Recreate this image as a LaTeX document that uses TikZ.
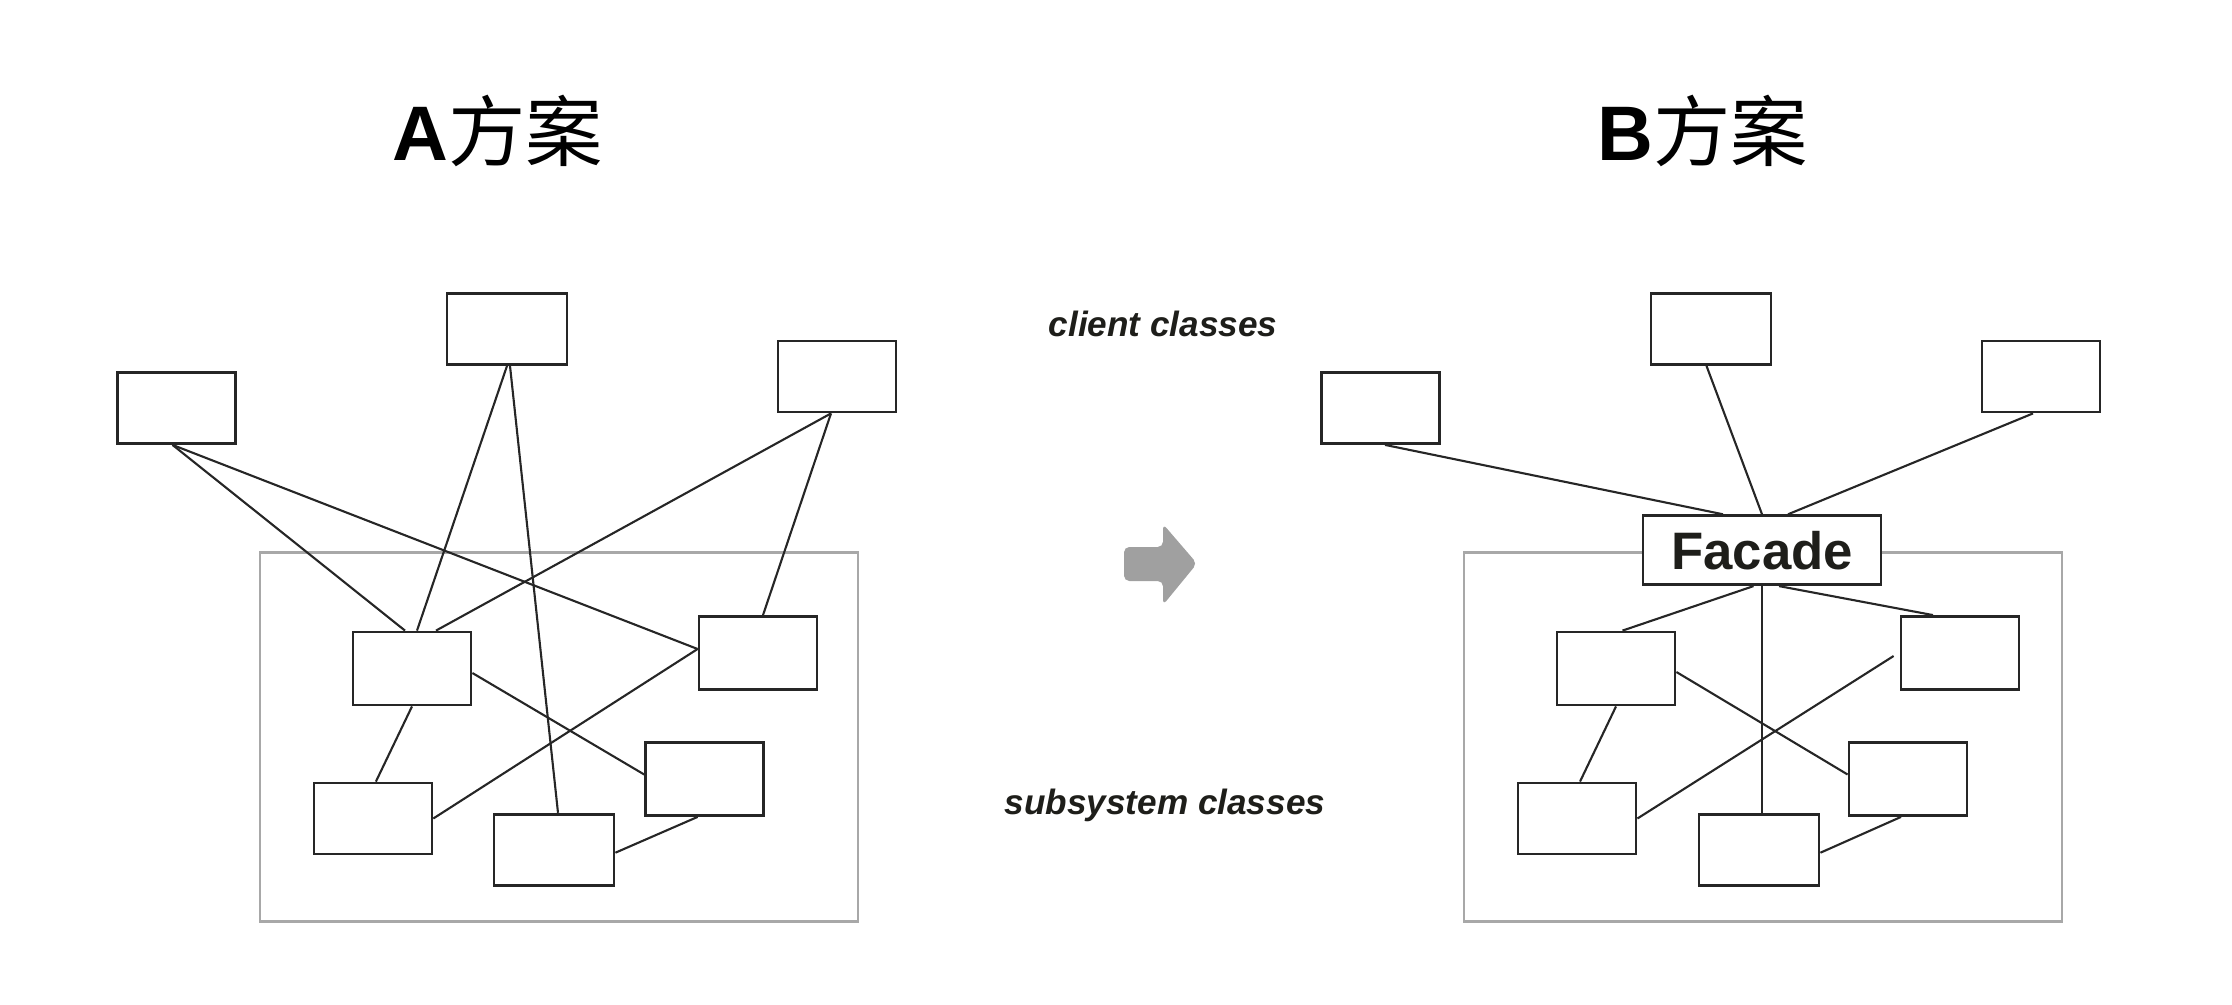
\documentclass[tikz,border=0pt]{standalone}
\usepackage{fontspec}
\setmainfont{Liberation Sans}
\newfontfamily\cjk{Noto Sans CJK SC}
\usetikzlibrary{calc}

\definecolor{framegrey}{HTML}{A8A8A8}
\definecolor{arrowgrey}{HTML}{A0A0A0}
\definecolor{labelink}{HTML}{1E1E1A}

\begin{document}
\begin{tikzpicture}[
    % Define styles
    classbox/.style={
        draw=black!85,
        line width=0.8pt,
        fill=white,
        inner sep=0pt,
        minimum width=1.18cm,
        minimum height=0.71cm
    },
    facadebox/.style={
        draw=black!85,
        line width=0.8pt,
        fill=white,
        inner sep=0pt,
        minimum width=2.38cm,
        minimum height=0.69cm,
        font=\fontsize{15}{18}\selectfont\bfseries,
        text=labelink
    },
    subframe/.style={
        draw=framegrey,
        line width=0.8pt,
        inner sep=0pt,
        minimum width=5.98cm,
        minimum height=3.69cm
    },
    link/.style={
        draw=black!85,
        line width=0.6pt
    },
    plantitle/.style={
        font=\fontsize{22}{26}\selectfont,
        anchor=base
    },
    caption/.style={
        font=\fontsize{10}{12}\selectfont\bfseries\itshape,
        text=labelink,
        anchor=base
    }
]
\useasboundingbox (0,0) rectangle (22.32,10.04);

% ============================================================
% Titles
% ============================================================
\node[plantitle] (titleA) at (4.98, 8.43) {\textbf{A}{\cjk 方案}};
\node[plantitle] (titleB) at (17.03, 8.43) {\textbf{B}{\cjk 方案}};

% ============================================================
% Plan A: every client talks to the subsystem
% ============================================================
\node[subframe] (subA) at (5.59, 2.667) {};

\node[classbox] (cA1) at (1.765, 5.96) {};
\node[classbox, minimum width=1.2cm] (cA2) at (5.07, 6.75) {};
\node[classbox] (cA3) at (8.37, 6.275) {};

\node[classbox, minimum height=0.73cm] (sA1) at (4.12, 3.355) {};
\node[classbox, minimum height=0.73cm] (sA2) at (7.58, 3.51) {};
\node[classbox, minimum height=0.73cm] (sA3) at (7.046, 2.25) {};
\node[classbox] (sA4) at (3.729, 1.855) {};
\node[classbox, minimum width=1.2cm] (sA5) at (5.54, 1.543) {};

% Client to subsystem
\draw[link] ([xshift=-0.04cm]cA1.south) -- ([xshift=-0.07cm]sA1.north);
\draw[link] ([xshift=-0.04cm]cA1.south) -- ([yshift=0.04cm]sA2.west);
\draw[link] (cA2.south) -- ([xshift=0.05cm]sA1.north);
\draw[link] ([xshift=0.03cm]cA2.south) -- ([xshift=0.04cm]sA5.north);
\draw[link] ([xshift=-0.06cm]cA3.south) -- ([xshift=0.24cm]sA1.north);
\draw[link] ([xshift=-0.06cm]cA3.south) -- ([xshift=0.05cm]sA2.north);

% Inside the subsystem
\draw[link] ([yshift=-0.045cm]sA1.east) -- ([yshift=0.045cm]sA3.west);
\draw[link] (sA1.south) -- ([xshift=0.03cm]sA4.north);
\draw[link] ([yshift=0.04cm]sA2.west) -- (sA4.east);
\draw[link] ([xshift=-0.07cm]sA3.south) -- ([yshift=-0.03cm]sA5.east);

% ============================================================
% Middle: labels and arrow
% ============================================================
\node[caption] (clientlbl) at (11.63, 6.68) {client classes};
\node[caption] (subsyslbl) at (11.65, 1.90) {subsystem classes};

\fill[arrowgrey, rounded corners=1.5pt]
    (11.24,4.23) -- (11.24,4.57) -- (11.63,4.57) -- (11.63,4.80)
    -- (11.97,4.405) -- (11.63,3.99) -- (11.63,4.23) -- cycle;

% ============================================================
% Plan B: clients go through the Facade
% ============================================================
\node[subframe] (subB) at (17.63, 2.667) {};

\node[classbox] (cB1) at (13.805, 5.96) {};
\node[classbox, minimum width=1.2cm] (cB2) at (17.11, 6.75) {};
\node[classbox] (cB3) at (20.41, 6.275) {};

\node[facadebox] (facade) at (17.62, 4.538) {Facade};

\node[classbox, minimum height=0.73cm] (sB1) at (16.16, 3.355) {};
\node[classbox, minimum height=0.73cm] (sB2) at (19.60, 3.51) {};
\node[classbox, minimum height=0.73cm] (sB3) at (19.08, 2.25) {};
\node[classbox] (sB4) at (15.77, 1.855) {};
\node[classbox, minimum width=1.2cm] (sB5) at (17.59, 1.543) {};

% Client to Facade
\draw[link] ([xshift=0.045cm]cB1.south) -- ([xshift=-0.39cm]facade.north);
\draw[link] ([xshift=-0.045cm]cB2.south) -- (facade.north);
\draw[link] ([xshift=-0.08cm]cB3.south) -- ([xshift=0.26cm]facade.north);

% Facade to subsystem
\draw[link] ([xshift=-0.085cm]facade.south) -- ([xshift=0.065cm]sB1.north);
\draw[link] ([xshift=0.17cm]facade.south) -- ([xshift=-0.27cm]sB2.north);
\draw[link] (facade.south) -- (facade.south |- sB5.north);

% Inside the subsystem
\draw[link] ([yshift=-0.035cm]sB1.east) -- ([yshift=0.045cm]sB3.west);
\draw[link] (sB1.south) -- ([xshift=0.03cm]sB4.north);
\draw[link] ([xshift=-0.06cm, yshift=-0.03cm]sB2.west) -- (sB4.east);
\draw[link] ([xshift=-0.07cm]sB3.south) -- ([yshift=-0.03cm]sB5.east);

\end{tikzpicture}
\end{document}
